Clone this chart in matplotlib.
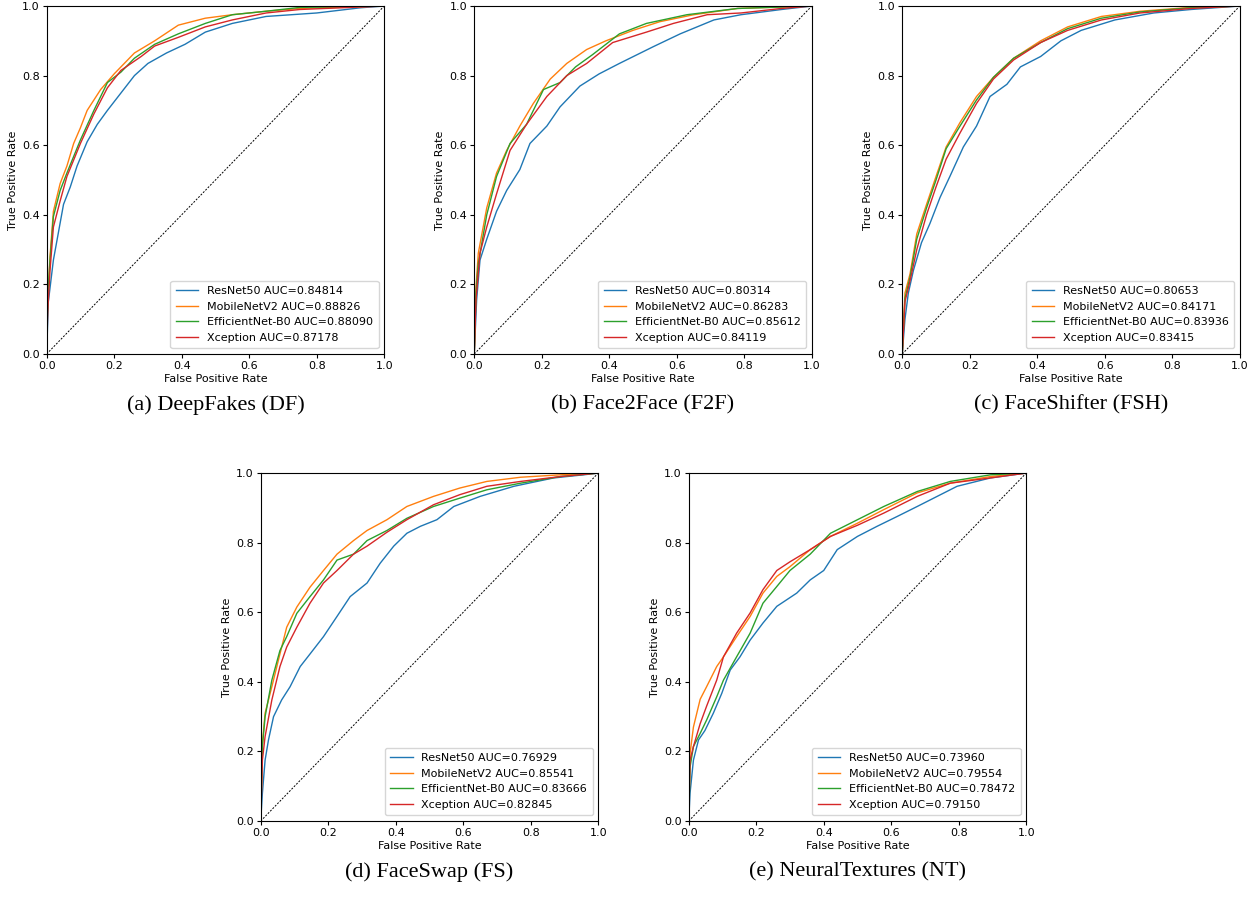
import matplotlib
matplotlib.use("Agg")
import matplotlib.pyplot as plt
import numpy as np

models = ["ResNet50", "MobileNetV2", "EfficientNet-B0", "Xception"]
colors = ["#1f77b4", "#ff7f0e", "#2ca02c", "#d62728"]

titles = ["(a) DeepFakes (DF)", "(b) Face2Face (F2F)", "(c) FaceShifter (FSH)",
          "(d) FaceSwap (FS)", "(e) NeuralTextures (NT)"]

auc_df = [0.84814, 0.88826, 0.88090, 0.87178]
auc_f2f = [0.80314, 0.86283, 0.85612, 0.84119]
auc_fsh = [0.80653, 0.84171, 0.83936, 0.83415]
auc_fs = [0.76929, 0.85541, 0.83666, 0.82845]
auc_nt = [0.73960, 0.79554, 0.78472, 0.79150]

# ROC points (fpr, tpr) per model
# DeepFakes
df_resnet_x = [0, 0.005, 0.02, 0.05, 0.07, 0.09, 0.12, 0.15, 0.18, 0.22, 0.26, 0.30, 0.355, 0.41, 0.47, 0.55, 0.65, 0.80, 0.93, 1]
df_resnet_y = [0, 0.15, 0.27, 0.43, 0.48, 0.54, 0.61, 0.66, 0.70, 0.75, 0.80, 0.835, 0.865, 0.89, 0.925, 0.95, 0.97, 0.98, 0.995, 1]
df_mobile_x = [0, 0.003, 0.01, 0.02, 0.04, 0.06, 0.08, 0.10, 0.12, 0.16, 0.20, 0.26, 0.32, 0.39, 0.47, 0.55, 0.65, 0.75, 1]
df_mobile_y = [0, 0.15, 0.28, 0.41, 0.49, 0.54, 0.605, 0.65, 0.70, 0.76, 0.805, 0.865, 0.90, 0.945, 0.965, 0.975, 0.985, 0.993, 1]
df_eff_x = [0, 0.003, 0.01, 0.02, 0.04, 0.06, 0.10, 0.14, 0.18, 0.22, 0.26, 0.32, 0.39, 0.47, 0.55, 0.65, 0.75, 1]
df_eff_y = [0, 0.16, 0.27, 0.395, 0.47, 0.52, 0.615, 0.70, 0.78, 0.81, 0.85, 0.89, 0.92, 0.95, 0.975, 0.985, 0.996, 1]
df_xcp_x = [0, 0.003, 0.01, 0.02, 0.04, 0.06, 0.10, 0.14, 0.18, 0.22, 0.28, 0.32, 0.39, 0.47, 0.55, 0.65, 0.75, 1]
df_xcp_y = [0, 0.12, 0.24, 0.365, 0.44, 0.51, 0.605, 0.69, 0.765, 0.815, 0.855, 0.885, 0.91, 0.94, 0.96, 0.98, 0.99, 1]

# Face2Face
f2f_resnet_x = [0, 0.007, 0.017, 0.037, 0.066, 0.096, 0.135, 0.165, 0.215, 0.254, 0.313, 0.37, 0.43, 0.53, 0.61, 0.71, 0.79, 0.91, 1]
f2f_resnet_y = [0, 0.155, 0.27, 0.33, 0.41, 0.47, 0.53, 0.605, 0.655, 0.71, 0.77, 0.805, 0.835, 0.883, 0.92, 0.96, 0.975, 0.99, 1]
f2f_mobile_x = [0, 0.005, 0.012, 0.037, 0.066, 0.096, 0.135, 0.175, 0.225, 0.274, 0.333, 0.39, 0.47, 0.55, 0.65, 0.78, 1]
f2f_mobile_y = [0, 0.19, 0.29, 0.42, 0.52, 0.585, 0.655, 0.72, 0.79, 0.835, 0.875, 0.90, 0.93, 0.955, 0.975, 0.993, 1]
f2f_eff_x = [0, 0.005, 0.012, 0.037, 0.066, 0.106, 0.155, 0.205, 0.254, 0.30, 0.35, 0.43, 0.51, 0.63, 0.78, 1]
f2f_eff_y = [0, 0.175, 0.26, 0.40, 0.51, 0.605, 0.66, 0.76, 0.78, 0.825, 0.86, 0.92, 0.95, 0.975, 0.993, 1]
f2f_xcp_x = [0, 0.005, 0.017, 0.037, 0.066, 0.106, 0.155, 0.215, 0.274, 0.333, 0.41, 0.51, 0.59, 0.69, 0.79, 0.91, 1]
f2f_xcp_y = [0, 0.155, 0.29, 0.365, 0.46, 0.585, 0.66, 0.74, 0.80, 0.835, 0.895, 0.925, 0.95, 0.975, 0.98, 0.993, 1]

# FaceShifter
fsh_resnet_x = [0, 0.008, 0.018, 0.033, 0.057, 0.082, 0.112, 0.141, 0.181, 0.22, 0.26, 0.31, 0.35, 0.41, 0.47, 0.53, 0.63, 0.745, 0.855, 1]
fsh_resnet_y = [0, 0.10, 0.175, 0.24, 0.32, 0.375, 0.45, 0.51, 0.595, 0.655, 0.74, 0.775, 0.825, 0.855, 0.90, 0.93, 0.96, 0.98, 0.99, 1]
fsh_mobile_x = [0, 0.008, 0.023, 0.043, 0.072, 0.10, 0.13, 0.171, 0.22, 0.27, 0.33, 0.41, 0.49, 0.59, 0.705, 0.855, 1]
fsh_mobile_y = [0, 0.175, 0.23, 0.345, 0.43, 0.51, 0.595, 0.665, 0.74, 0.795, 0.85, 0.90, 0.94, 0.97, 0.985, 0.996, 1]
fsh_eff_x = [0, 0.008, 0.023, 0.043, 0.072, 0.10, 0.13, 0.171, 0.22, 0.27, 0.33, 0.41, 0.49, 0.59, 0.705, 0.855, 1]
fsh_eff_y = [0, 0.16, 0.22, 0.33, 0.42, 0.50, 0.59, 0.655, 0.73, 0.795, 0.85, 0.895, 0.935, 0.965, 0.983, 0.995, 1]
fsh_xcp_x = [0, 0.008, 0.023, 0.043, 0.072, 0.10, 0.13, 0.171, 0.22, 0.27, 0.33, 0.41, 0.49, 0.59, 0.705, 0.855, 1]
fsh_xcp_y = [0, 0.15, 0.21, 0.30, 0.40, 0.48, 0.56, 0.635, 0.72, 0.79, 0.845, 0.895, 0.93, 0.96, 0.98, 0.993, 1]

# FaceSwap
fs_resnet_x = [0, 0.005, 0.013, 0.023, 0.038, 0.062, 0.087, 0.117, 0.146, 0.186, 0.226, 0.265, 0.315, 0.354, 0.394, 0.433, 0.473, 0.522, 0.572, 0.65, 0.75, 0.868, 0.957, 1]
fs_resnet_y = [0, 0.08, 0.175, 0.233, 0.30, 0.348, 0.386, 0.444, 0.48, 0.53, 0.588, 0.645, 0.684, 0.741, 0.79, 0.827, 0.847, 0.866, 0.904, 0.933, 0.962, 0.986, 0.995, 1]
fs_mobile_x = [0, 0.005, 0.013, 0.033, 0.057, 0.077, 0.107, 0.146, 0.186, 0.226, 0.275, 0.315, 0.374, 0.433, 0.512, 0.59, 0.67, 0.77, 0.888, 1]
fs_mobile_y = [0, 0.223, 0.31, 0.386, 0.48, 0.557, 0.615, 0.672, 0.72, 0.767, 0.806, 0.835, 0.866, 0.904, 0.933, 0.957, 0.976, 0.988, 0.995, 1]
fs_eff_x = [0, 0.005, 0.013, 0.033, 0.057, 0.077, 0.107, 0.146, 0.186, 0.226, 0.275, 0.315, 0.374, 0.433, 0.512, 0.59, 0.67, 0.77, 0.888, 1]
fs_eff_y = [0, 0.214, 0.30, 0.405, 0.49, 0.53, 0.597, 0.645, 0.693, 0.75, 0.767, 0.806, 0.835, 0.87, 0.904, 0.928, 0.952, 0.971, 0.99, 1]
fs_xcp_x = [0, 0.005, 0.013, 0.033, 0.057, 0.077, 0.107, 0.146, 0.186, 0.226, 0.275, 0.315, 0.374, 0.433, 0.512, 0.59, 0.67, 0.77, 0.888, 1]
fs_xcp_y = [0, 0.175, 0.243, 0.348, 0.444, 0.50, 0.557, 0.626, 0.684, 0.72, 0.767, 0.79, 0.83, 0.866, 0.909, 0.938, 0.962, 0.976, 0.99, 1]

# NeuralTextures
nt_resnet_x = [0, 0.004, 0.014, 0.029, 0.048, 0.073, 0.098, 0.123, 0.152, 0.182, 0.22, 0.261, 0.32, 0.36, 0.40, 0.44, 0.50, 0.558, 0.617, 0.677, 0.736, 0.795, 0.894, 1]
nt_resnet_y = [0, 0.08, 0.175, 0.233, 0.26, 0.31, 0.367, 0.434, 0.472, 0.52, 0.569, 0.617, 0.655, 0.693, 0.72, 0.78, 0.818, 0.847, 0.875, 0.904, 0.933, 0.962, 0.986, 1]
nt_mobile_x = [0, 0.004, 0.014, 0.034, 0.053, 0.083, 0.103, 0.142, 0.182, 0.22, 0.261, 0.30, 0.36, 0.42, 0.50, 0.578, 0.677, 0.775, 0.894, 1]
nt_mobile_y = [0, 0.194, 0.27, 0.35, 0.386, 0.444, 0.472, 0.53, 0.588, 0.655, 0.703, 0.731, 0.78, 0.818, 0.856, 0.895, 0.943, 0.971, 0.99, 1]
nt_eff_x = [0, 0.004, 0.014, 0.034, 0.053, 0.083, 0.103, 0.142, 0.182, 0.22, 0.261, 0.30, 0.36, 0.42, 0.50, 0.578, 0.677, 0.775, 0.894, 1]
nt_eff_y = [0, 0.155, 0.214, 0.252, 0.29, 0.357, 0.405, 0.472, 0.54, 0.626, 0.674, 0.72, 0.767, 0.827, 0.866, 0.904, 0.947, 0.976, 0.995, 1]
nt_xcp_x = [0, 0.004, 0.014, 0.034, 0.053, 0.083, 0.103, 0.142, 0.182, 0.22, 0.261, 0.30, 0.36, 0.42, 0.50, 0.578, 0.677, 0.775, 0.894, 1]
nt_xcp_y = [0, 0.175, 0.214, 0.28, 0.33, 0.405, 0.472, 0.54, 0.598, 0.665, 0.72, 0.745, 0.78, 0.818, 0.85, 0.885, 0.933, 0.971, 0.986, 1]

panels = [
    ([(df_resnet_x, df_resnet_y), (df_mobile_x, df_mobile_y), (df_eff_x, df_eff_y), (df_xcp_x, df_xcp_y)], auc_df),
    ([(f2f_resnet_x, f2f_resnet_y), (f2f_mobile_x, f2f_mobile_y), (f2f_eff_x, f2f_eff_y), (f2f_xcp_x, f2f_xcp_y)], auc_f2f),
    ([(fsh_resnet_x, fsh_resnet_y), (fsh_mobile_x, fsh_mobile_y), (fsh_eff_x, fsh_eff_y), (fsh_xcp_x, fsh_xcp_y)], auc_fsh),
    ([(fs_resnet_x, fs_resnet_y), (fs_mobile_x, fs_mobile_y), (fs_eff_x, fs_eff_y), (fs_xcp_x, fs_xcp_y)], auc_fs),
    ([(nt_resnet_x, nt_resnet_y), (nt_mobile_x, nt_mobile_y), (nt_eff_x, nt_eff_y), (nt_xcp_x, nt_xcp_y)], auc_nt),
]

# axes boxes [left, bottom, width, height] in figure fraction
W, H = 0.2692, 0.3875
boxes = [[0.0372, 0.6058, W, H], [0.3782, 0.6058, W, H], [0.7195, 0.6058, W, H],
         [0.2079, 0.0857, W, H], [0.5492, 0.0857, W, H]]
caption_y = [0.538, 0.538, 0.538, 0.018, 0.018]

fig = plt.figure(figsize=(12.54, 8.98), dpi=100)

for i, (curves, aucs) in enumerate(panels):
    ax = fig.add_axes(boxes[i])
    for (fx, ty), name, c, a in zip(curves, models, colors, aucs):
        ax.plot(fx, ty, color=c, lw=1.0, label="%s AUC=%.5f" % (name, a))
    ax.plot([0, 1], [0, 1], "k--", lw=0.7, dashes=(2, 1.5))
    ax.set_xlim(0, 1)
    ax.set_ylim(0, 1)
    ax.set_xlabel("False Positive Rate", fontsize=8, labelpad=2)
    ax.set_ylabel("True Positive Rate", fontsize=8, labelpad=3)
    ax.tick_params(labelsize=8, length=3, pad=2)
    ax.legend(loc="lower right", fontsize=8, borderpad=0.5, labelspacing=0.5)
    b = boxes[i]
    fig.text(b[0] + b[2] / 2, caption_y[i], titles[i], ha="center", va="bottom",
             family="Liberation Serif", fontsize=16)

plt.savefig("out.png", dpi=100)
